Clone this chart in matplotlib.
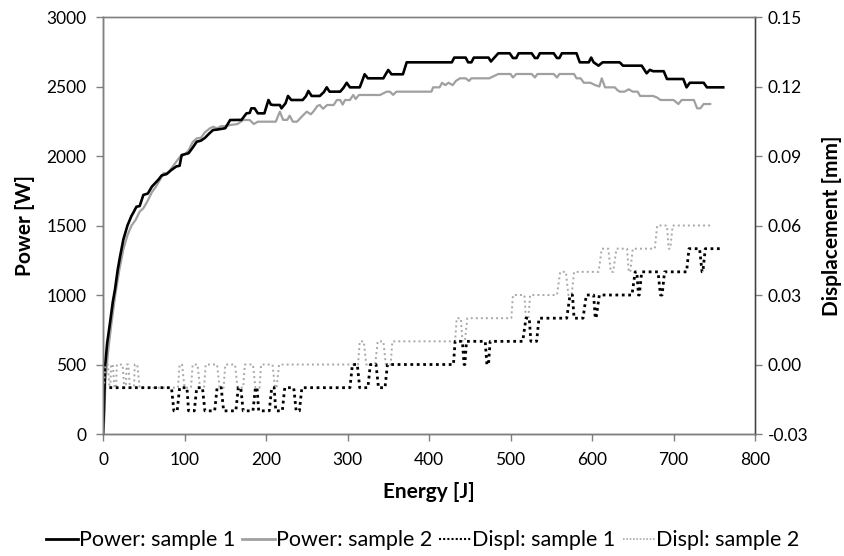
import matplotlib
matplotlib.use("Agg")
import matplotlib.pyplot as plt
from matplotlib.lines import Line2D
import numpy as np

plt.rcParams['font.family'] = ['Lato', 'DejaVu Sans']

# ---------------- data ----------------
p1_E = [0, 1, 2.5, 5, 8.6, 12, 14.7, 18, 21, 25, 30, 35, 37, 41, 45, 49.5, 55, 60, 68, 72, 78, 84, 90, 94,
        96.5, 105, 110, 115, 120, 125, 130, 135, 140, 150, 156, 170, 176, 180, 182, 186, 190, 198,
        203, 206, 209, 217, 219, 224, 227, 231, 245, 249, 252, 256, 266, 271, 274.5, 278, 291, 295,
        299, 303, 315, 318, 321, 325, 344, 347, 350, 354, 368, 372.6, 428, 431, 445, 448, 452, 455,
        473, 476, 479, 485, 499, 503, 507, 510, 526, 530, 533, 536, 553, 557, 560, 563, 581, 585,
        596, 599, 602, 608, 613, 634, 638, 661, 667, 671, 675, 688, 692, 712, 716, 720, 737, 741, 761]
p1_W = [0, 150, 480, 650, 800, 950, 1040, 1180, 1280, 1400, 1500, 1570, 1590, 1635, 1640, 1720, 1730,
        1780, 1830, 1860, 1870, 1900, 1925, 1930, 2007, 2020, 2060, 2103, 2110, 2130, 2160, 2187,
        2190, 2200, 2259, 2260, 2307, 2310, 2343, 2343, 2307, 2307,
        2403, 2370, 2367, 2367, 2343, 2380, 2432, 2403, 2403, 2430, 2468, 2432, 2432, 2460, 2494,
        2463, 2463, 2490, 2527, 2494, 2494, 2540, 2588, 2559, 2559, 2590, 2619, 2588, 2588, 2674,
        2674, 2708, 2708, 2674, 2674, 2708, 2708, 2680, 2700, 2739, 2739, 2705, 2705, 2739, 2739,
        2705, 2705, 2739, 2739, 2705, 2705, 2739, 2739, 2674, 2674, 2708, 2674, 2650, 2674, 2674,
        2650, 2650, 2595, 2620, 2610, 2610, 2554, 2554, 2494, 2527, 2527, 2494, 2494]

p2_E = [0, 1.5, 3, 6, 10, 15, 20, 25, 30, 35, 40, 45, 49.5, 55, 60, 65, 70, 74, 80, 85, 90, 94.5, 100,
        105, 110, 115, 120, 125, 131, 135, 140, 145, 150, 156, 165, 172, 180, 185, 190, 212, 217,
        221, 226, 229, 233, 238, 245, 250, 255, 258, 263, 266, 270, 275, 283, 287, 291, 294, 297,
        303, 307, 310, 314, 331, 340, 348, 352, 356, 360, 403, 405, 413, 416, 420, 424, 429, 433,
        438, 445, 449, 452, 474, 485, 500, 503, 507, 526, 530, 533, 553, 557, 560, 578, 581, 586,
        590, 598, 604, 609, 612, 616, 628, 631, 634, 640, 645, 650, 656, 659, 675, 680, 684, 700,
        706, 710, 725, 729, 733, 737, 745]
p2_W = [0, 100, 380, 580, 780, 1000, 1180, 1330, 1430, 1500, 1540, 1600, 1624, 1680, 1740, 1780, 1830,
        1875, 1880, 1920, 1960, 1995, 2010, 2040, 2100, 2127, 2130, 2170, 2199, 2210, 2200, 2215,
        2215, 2223, 2230, 2259, 2259, 2230, 2247, 2247, 2319, 2260, 2260, 2290, 2247, 2247, 2290,
        2319, 2300, 2319, 2360, 2367, 2340, 2367, 2367, 2403, 2403, 2370, 2403, 2403, 2439, 2410,
        2439, 2439, 2439, 2463, 2463, 2440, 2463, 2463, 2494, 2494, 2527, 2510, 2527, 2510, 2540,
        2559, 2559, 2540, 2559, 2559, 2590, 2590, 2565, 2590, 2590, 2565, 2590, 2590, 2565, 2590,
        2590, 2559, 2559, 2527, 2527, 2510, 2500, 2559, 2494, 2494, 2475, 2463, 2463, 2480, 2463,
        2463, 2432, 2432, 2420, 2403, 2403, 2374, 2403, 2403, 2343, 2343, 2374, 2374]

# displacement plateaus: start energy, end energy, level [mm]
d1_start = [0, 87, 94, 105, 115, 125, 140, 148, 166, 172, 187, 191, 207, 212, 223, 237, 244, 306, 315,
            328, 338, 349, 432, 443, 446, 471, 475, 519, 525, 535, 573, 578, 593, 604, 609, 653, 657,
            661, 684, 689, 719, 735, 739]
d1_end = [84, 91, 103, 112, 122, 137, 145, 163, 169, 184, 189, 204, 210, 220, 234, 241, 303, 312, 325,
          335, 346, 430, 441, 444, 469, 473, 515, 523, 532, 569, 576, 589, 602, 605, 649, 655, 658,
          681, 686, 716, 732, 736, 760]
d1_level = [-0.01, -0.02, -0.01, -0.02, -0.01, -0.02, -0.01, -0.02, -0.01, -0.02, -0.01, -0.02, -0.01,
            -0.02, -0.01, -0.02, -0.01, 0.00, -0.01, 0.00, -0.01, 0.00, 0.01, 0.00, 0.01, 0.00, 0.01,
            0.02, 0.01, 0.02, 0.03, 0.02, 0.03, 0.02, 0.03, 0.04, 0.03, 0.04, 0.03, 0.04, 0.05, 0.04,
            0.05]

d2_start = [0, 3, 8, 10, 14, 17, 26, 29, 33, 39, 45, 94, 100, 110, 119, 126, 143, 150, 165, 174, 187,
            194, 211, 216, 315, 323, 337, 347, 355, 434, 441, 447, 503, 519, 524, 561, 571, 578, 612,
            623, 630, 645, 650, 680, 694, 699]
d2_end = [1, 6, 9, 12, 16, 24, 28, 31, 38, 42, 92, 97, 108, 116, 124, 140, 148, 162, 172, 184, 192,
          208, 213, 313, 320, 334, 344, 353, 432, 439, 444, 501, 517, 522, 557, 568, 575, 608, 620,
          626, 643, 647, 677, 692, 696, 745]
d2_level = [-0.01, 0.00, -0.01, 0.00, -0.01, 0.00, -0.01, 0.00, -0.01, 0.00, -0.01, 0.00, -0.01, 0.00,
            -0.01, 0.00, -0.01, 0.00, -0.01, 0.00, -0.01, 0.00, -0.01, 0.00, 0.01, 0.00, 0.01, 0.00,
            0.01, 0.02, 0.01, 0.02, 0.03, 0.02, 0.03, 0.04, 0.03, 0.04, 0.05, 0.04, 0.05, 0.04, 0.05,
            0.06, 0.05, 0.06]

labels = ["Power: sample 1", "Power: sample 2", "Displ: sample 1", "Displ: sample 2"]


def plateaus(starts, ends, levels):
    xs, ys = [], []
    for s, e, l in zip(starts, ends, levels):
        xs += [s, e]
        ys += [l, l]
    return xs, ys


# ---------------- figure ----------------
fig = plt.figure(figsize=(8.45, 5.56), dpi=100)
ax = fig.add_axes([0.1219, 0.2194, 0.7716, 0.7500])
ax2 = ax.twinx()

c_black = "#000000"
c_gray = "#A0A0A0"
c_dgray = "#A8A8A8"

l1, = ax.plot(p1_E, p1_W, color=c_black, lw=1.9, zorder=4)
l2, = ax.plot(p2_E, p2_W, color=c_gray, lw=1.6, zorder=3)

x1, y1 = plateaus(d1_start, d1_end, d1_level)
x2, y2 = plateaus(d2_start, d2_end, d2_level)
l4, = ax2.plot(x2, y2, color=c_dgray, lw=1.4, linestyle=(0, (1, 1.6)))
l3, = ax2.plot(x1, y1, color=c_black, lw=2.0, linestyle=(0, (1, 1.3)))

ax.set_xlim(0, 800)
ax.set_ylim(0, 3000)
ax2.set_ylim(-0.03, 0.15)
ax.set_xticks(np.arange(0, 801, 100))
ax.set_yticks(np.arange(0, 3001, 500))
ax2.set_yticks(np.arange(-0.03, 0.151, 0.03))
ax2.set_yticklabels([f"{v:.2f}" for v in np.arange(-0.03, 0.151, 0.03)])

for a in (ax, ax2):
    for sp in a.spines.values():
        sp.set_color("#808080")
        sp.set_linewidth(1.0)
    a.tick_params(direction="out", length=5, width=1, color="#808080",
                  labelsize=12.5, labelcolor="#000000")
ax.tick_params(axis="x", pad=8)
ax.tick_params(axis="y", pad=7)
ax2.tick_params(axis="y", pad=4)
ax.spines['left'].set_color("#404040")
ax.spines['bottom'].set_color("#404040")
ax2.spines['right'].set_color("#404040")

ax.set_xlabel("Energy [J]", fontsize=15, fontweight="bold", labelpad=10)
ax.set_ylabel("Power [W]", fontsize=15, fontweight="bold", labelpad=8)
ax2.set_ylabel("Displacement [mm]", fontsize=15, fontweight="bold", labelpad=10)

handles = [Line2D([], [], color=c_black, lw=2.0),
           Line2D([], [], color=c_gray, lw=2.0),
           Line2D([], [], color=c_black, lw=1.5, linestyle=(0, (1, 1))),
           Line2D([], [], color=c_dgray, lw=1.2, linestyle=(0, (1, 1)))]
fig.legend(handles, labels, loc="center", bbox_to_anchor=(0.5, 0.028), ncol=4,
           frameon=False, fontsize=15.5, handlelength=1.5, handletextpad=0.05,
           columnspacing=0.33, borderpad=0.2)

fig.savefig("out.png", dpi=100)
